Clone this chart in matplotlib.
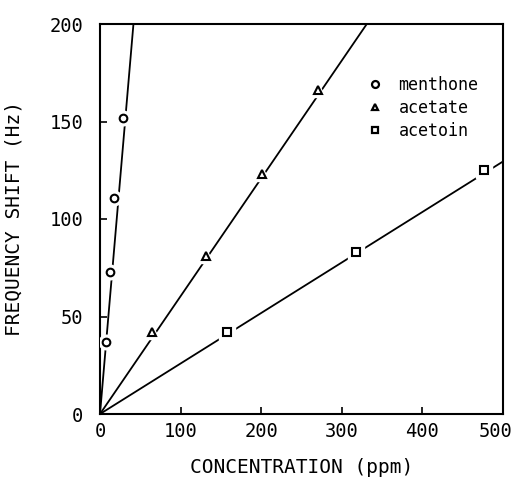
import matplotlib
matplotlib.use("Agg")
import matplotlib.pyplot as plt
import matplotlib.transforms as mtransforms
from matplotlib.lines import Line2D

# Data
menthone_x = [7, 12, 17, 28]
menthone_y = [37, 73, 111, 152]
acetate_x = [65, 132, 201, 270]
acetate_y = [42, 81, 123, 166]
acetoin_x = [158, 318, 476]
acetoin_y = [42, 83, 125]

# Fitted curves (vertices)
menthone_fit_x = [0, 41.5]
menthone_fit_y = [0, 200]
acetate_fit_x = [0, 331]
acetate_fit_y = [0, 200]
acetoin_fit_x = [0, 500]
acetoin_fit_y = [0, 129.5]

series_names = ["menthone", "acetate", "acetoin"]
xticks = [0, 100, 200, 300, 400, 500]
yticks = [0, 50, 100, 150, 200]

mono = ["DejaVu Sans Mono"]

fig = plt.figure(figsize=(5.14, 4.80), dpi=100)
ax = fig.add_axes([100/514, 1-414/480, 403/514, 390/480])

ax.set_xlim(0, 500)
ax.set_ylim(0, 200)

for fx, fy in [(menthone_fit_x, menthone_fit_y), (acetate_fit_x, acetate_fit_y), (acetoin_fit_x, acetoin_fit_y)]:
    ax.plot(fx, fy, color="black", lw=1.3, zorder=2, clip_on=True)

markers = ["o", "^", "s"]
sizes = [5.5, 5.5, 6]
for (x, y), m, s in zip([(menthone_x, menthone_y), (acetate_x, acetate_y), (acetoin_x, acetoin_y)], markers, sizes):
    # white halo to break the line near each marker
    ax.plot(x, y, linestyle="none", marker=m, markersize=s + 5, markerfacecolor="white",
            markeredgecolor="white", zorder=3)
    ax.plot(x, y, linestyle="none", marker=m, markersize=s, markerfacecolor="white",
            markeredgecolor="black", markeredgewidth=1.5, zorder=4)

handles = [Line2D([], [], linestyle="none", marker=m, markersize=5, markerfacecolor="white",
                  markeredgecolor="black", markeredgewidth=1.6) for m in markers]
leg = ax.legend(handles, series_names, loc="upper left", bbox_to_anchor=(0.65, 0.885),
                frameon=False, handlelength=0.8, handletextpad=1.0, labelspacing=0.3,
                prop={"family": mono, "size": 12}, borderaxespad=0)

for sp in ax.spines.values():
    sp.set_linewidth(1.5)

ax.set_xticks(xticks)
ax.set_yticks(yticks)
ax.tick_params(direction="in", length=5, width=1.2, top=False, right=False)
ax.tick_params(axis="x", pad=6)
ax.tick_params(axis="y", pad=12)
ax.set_xticklabels([str(v) for v in xticks], family=mono, fontsize=13.5)
ax.set_yticklabels([str(v) for v in yticks], family=mono, fontsize=13.5)
# nudge the last x tick label left so it stays inside the figure
last = ax.get_xticklabels()[-1]
last.set_transform(last.get_transform() + mtransforms.ScaledTranslation(-7/100, 0, fig.dpi_scale_trans))

ax.set_xlabel("CONCENTRATION (ppm)", family=mono, fontsize=14)
ax.set_ylabel("FREQUENCY SHIFT (Hz)", family=mono, fontsize=14)
ax.xaxis.set_label_coords(0.5, (414 - 458) / 390)
ax.yaxis.set_label_coords((24 - 100) / 403, 0.5)

fig.savefig("out.png", dpi=100)
